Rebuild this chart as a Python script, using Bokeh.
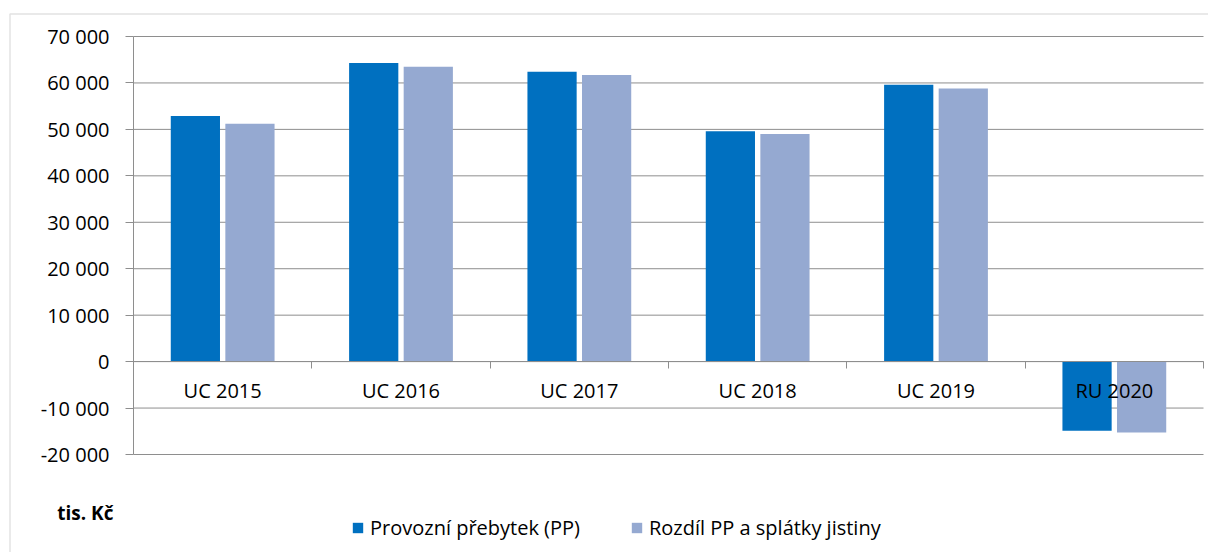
from bokeh.plotting import figure
from bokeh.models import (Range1d, FixedTicker, CustomJSTickFormatter, Legend, LegendItem,
                          Label, BoxAnnotation, ColumnDataSource)
from bokeh.core.properties import value
from bokeh.embed import file_html
from bokeh.resources import INLINE

categories = ["UC 2015", "UC 2016", "UC 2017", "UC 2018", "UC 2019", "RU 2020"]
provozni_prebytek = [52900, 64300, 62400, 49600, 59600, -14900]
rozdil_pp_splatky = [51200, 63500, 61700, 49000, 58800, -15250]
y_ticks = [-20000, -10000, 0, 10000, 20000, 30000, 40000, 50000, 60000, 70000]
series_names = ["Provozní přebytek (PP)", "Rozdíl PP a splátky jistiny"]
unit_label = "tis. Kč"

FONT = "Open Sans"
BLUE = "#0070C0"
LIGHT = "#95A9D1"
GRID = "#8E8E8E"

# layout (pixels)
W, H = 1208, 552
PL, PR, PT, PB = 133, 1203, 36, 454   # inner plotting area
n = len(categories)
ymin, ymax = y_ticks[0], y_ticks[-1]
ppx = (PR - PL) / n
ppy = (PB - PT) / (ymax - ymin)

def xd(px):
    return (px - PL) / ppx

def yd(py):
    return ymax - (py - PT) / ppy

idx = list(range(n))
centers = [i + 0.5 for i in idx]
off = 0.153
src = ColumnDataSource(dict(
    cat=categories,
    xc=centers,
    x1=[c - off for c in centers],
    x2=[c + off for c in centers],
    v1=provozni_prebytek,
    v2=rozdil_pp_splatky,
    zero=[0] * n,
))
grid_src = ColumnDataSource(dict(y=y_ticks, x0=[0] * len(y_ticks), x1=[n] * len(y_ticks)))

p = figure(width=W, height=H, output_backend="svg", toolbar_location=None,
           x_range=Range1d(xd(0), xd(W)), y_range=Range1d(yd(H), yd(0)),
           min_border=0, min_border_left=0, min_border_right=0,
           min_border_top=0, min_border_bottom=0)
p.title.visible = False
p.outline_line_color = None
p.background_fill_color = "white"
p.border_fill_color = "white"
p.xgrid.visible = False
p.ygrid.visible = False

# horizontal gridlines across the category area
p.segment(x0="x0", x1="x1", y0="y", y1="y", source=grid_src, line_color=GRID, line_width=1)

r1 = p.vbar(x="x1", top="v1", bottom=0, width=0.276, source=src, fill_color=BLUE, line_color=None)
r2 = p.vbar(x="x2", top="v2", bottom=0, width=0.276, source=src, fill_color=LIGHT, line_color=None)

# category labels just below zero line
p.text(x="xc", y="zero", text="cat", source=src, y_offset=29, text_align="center",
       text_baseline="middle", text_font=value(FONT), text_font_size="20px", text_color="black")

# y axis
yax = p.yaxis[0]
yax.fixed_location = 0
yax.bounds = (ymin, ymax)
yax.ticker = FixedTicker(ticks=y_ticks)
yax.formatter = CustomJSTickFormatter(code="""
var s = Math.abs(tick).toFixed(0).replace(/\\B(?=(\\d{3})+(?!\\d))/g, ' ');
return (tick < 0 ? '-' : '') + s;
""")
yax.major_label_text_font = FONT
yax.major_label_text_font_size = "20px"
yax.major_label_text_color = "black"
yax.major_label_standoff = 16
yax.axis_line_color = GRID
yax.major_tick_line_color = GRID
yax.major_tick_out = 8
yax.major_tick_in = 0
yax.minor_tick_line_color = None

# x axis at zero with separators between categories
xax = p.xaxis[0]
xax.fixed_location = 0
xax.bounds = (0, n)
xax.ticker = FixedTicker(ticks=list(range(n + 1)))
xax.major_label_text_font_size = "0px"
xax.major_label_text_color = None
xax.axis_line_color = GRID
xax.major_tick_line_color = GRID
xax.major_tick_out = 7
xax.major_tick_in = 0
xax.minor_tick_line_color = None

legend = Legend(items=[LegendItem(label=series_names[0], renderers=[r1]),
                       LegendItem(label=series_names[1], renderers=[r2])],
                orientation="horizontal", location=(351, H - 541),
                glyph_width=13, glyph_height=13, label_standoff=6, spacing=50,
                label_text_font=FONT, label_text_font_size="20px", label_text_color="black",
                border_line_color=None, background_fill_alpha=0, padding=0, margin=0)
p.add_layout(legend)

p.add_layout(Label(x=xd(113), y=yd(512), text=unit_label,
                   text_align="right", text_baseline="middle", text_font=FONT,
                   text_font_size="19px", text_font_style="bold", text_color="black"))

p.add_layout(BoxAnnotation(left=xd(9.5), right=xd(W + 40), top=yd(13.5), bottom=yd(H + 40),
                           fill_alpha=0, line_color="#A0A0A0", line_width=1.5))

open("out.html", "w").write(file_html(p, INLINE))
